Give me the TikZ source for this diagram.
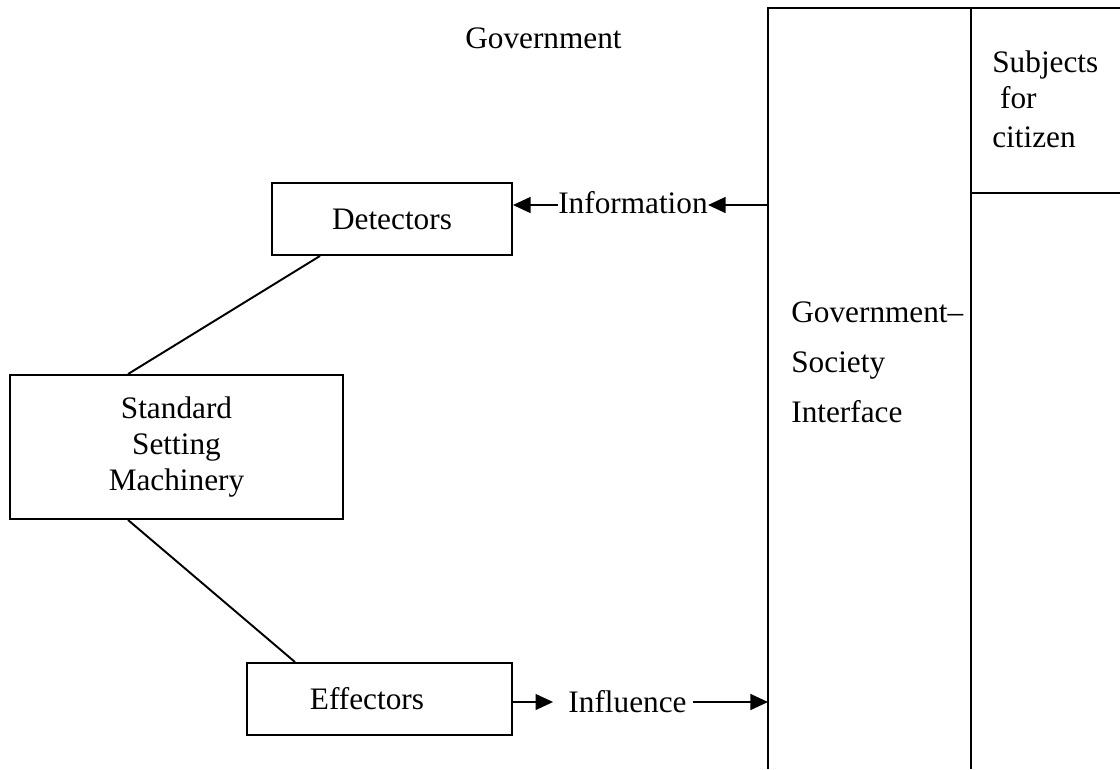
\documentclass[tikz,border=0pt]{standalone}
\usepackage{fontspec}
\setmainfont{Liberation Serif}
\usetikzlibrary{arrows.meta}
\tikzset{
  box/.style={draw,line width=1.1pt,inner sep=0pt,align=center},
  lbl/.style={inner sep=0pt},
  conn/.style={line width=1.1pt},
  flow/.style={line width=1.1pt,-{Triangle[length=10pt,width=9pt]}}
}
\newcommand{\figfont}{\fontsize{17.8}{20.7}\selectfont}

\begin{document}
\begin{tikzpicture}[x=0.02cm,y=-0.02cm,font=\figfont]
  \useasboundingbox (0,0) rectangle (1120,769);
  % interface frame
  \draw[conn] (1120,8) -- (768,8) -- (768,769);
  \draw[conn] (971,8) -- (971,769);
  \draw[conn] (971,193) -- (1120,193);
  \node[lbl,anchor=base] (gov) at (543.5,48) {Government};
  % government boxes
  \node[box,minimum width=4.8cm,minimum height=1.44cm] (detect) at (392,219) {Detectors};
  \node[box,minimum width=6.66cm,minimum height=2.88cm] (ssm) at (176.5,447) {Standard\\Setting\\Machinery};
  \node[box,minimum width=5.3cm,minimum height=1.44cm] (effect) at (379.5,699) {Effectors\hspace{0.5cm}};
  \draw[conn] ([xshift=-1.44cm]detect.south) -- ([xshift=-0.97cm]ssm.north);
  \draw[conn] ([xshift=-0.97cm]ssm.south) -- ([xshift=-1.69cm]effect.north);
  % flows
  \node[lbl,anchor=base] (info) at (633,213) {Information};
  \node[lbl,anchor=base] (infl) at (627.5,712) {Influence};
  \coordinate (infoin) at (768,205);
  \coordinate (inflout) at (768,702);
  \draw[flow] (infoin) -- (info.east |- infoin);
  \draw[flow] (info.west |- infoin) -- (detect.east |- infoin);
  \draw[flow,shorten >=0.3cm] (effect.east |- inflout) -- (infl.west |- inflout);
  \draw[flow,shorten <=0.12cm] (infl.east |- inflout) -- (inflout);
  % interface texts
  \node[lbl,anchor=base west] (gsi1) at (791,322) {Government--};
  \node[lbl,anchor=base west] (gsi2) at (791,372) {Society};
  \node[lbl,anchor=base west] (gsi3) at (791,422) {Interface};
  \node[lbl,anchor=base west] (subj1) at (992,72) {Subjects};
  \node[lbl,anchor=base west] (subj2) at (992,108) {\hspace{0.25em}for};
  \node[lbl,anchor=base west] (subj3) at (992,147) {citizen};
\end{tikzpicture}
\end{document}
